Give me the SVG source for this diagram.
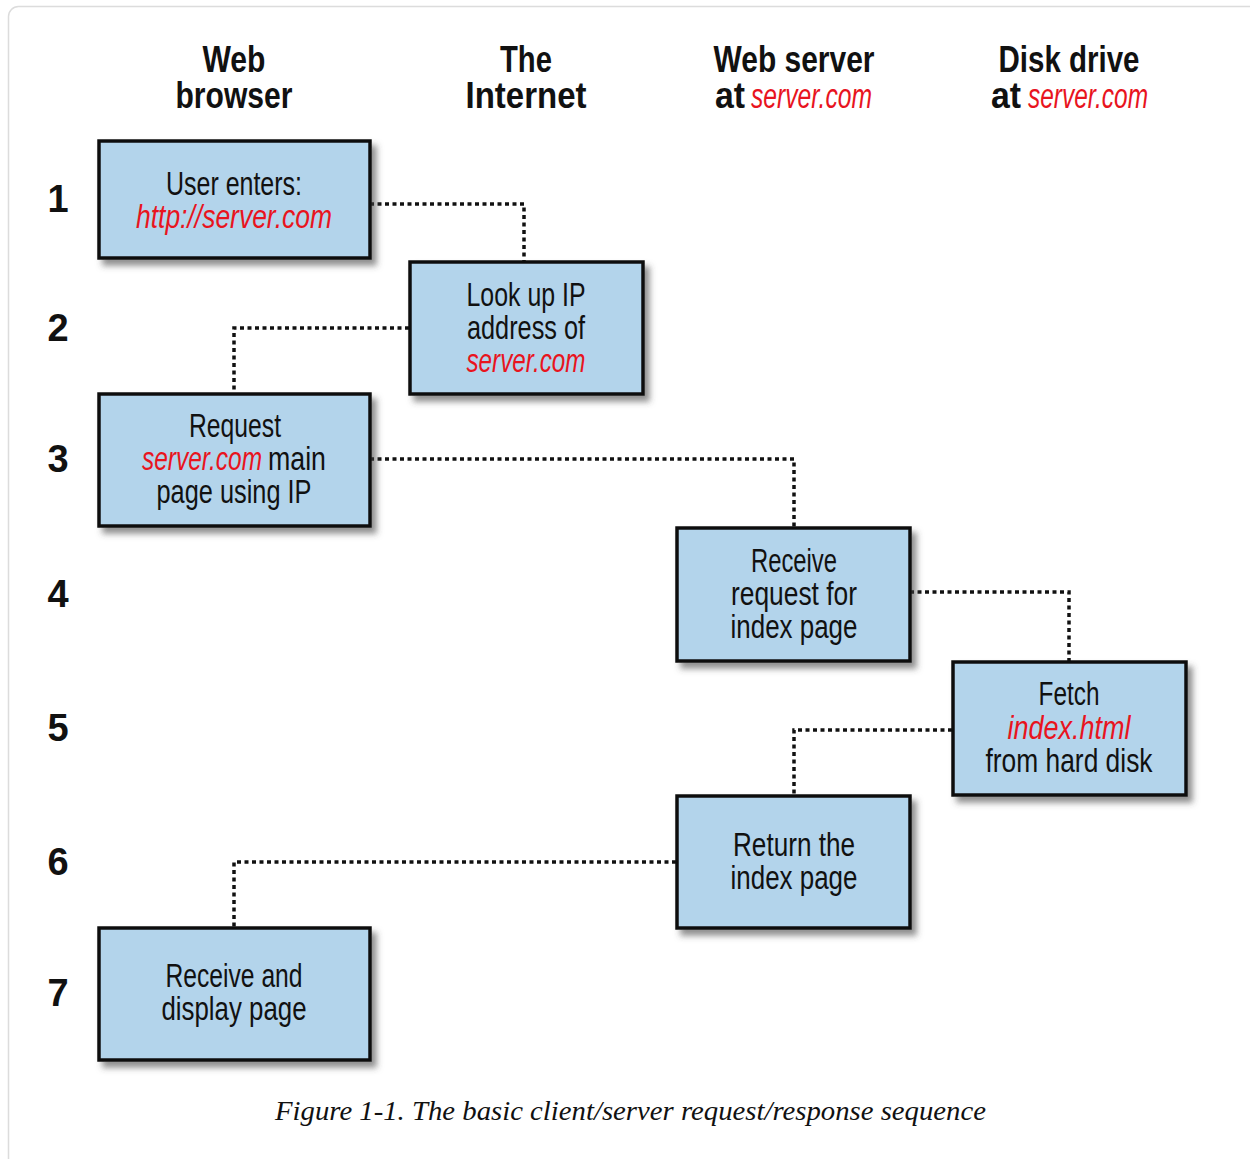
<svg xmlns="http://www.w3.org/2000/svg" width="1250" height="1159" viewBox="0 0 1250 1159">
<defs>
<filter id="sh" x="-10%" y="-10%" width="130%" height="130%">
<feDropShadow dx="5" dy="6" stdDeviation="3" flood-color="#444" flood-opacity="0.6"/>
</filter>
<style>
.box{fill:#b3d4eb;stroke:#111;stroke-width:3.5;filter:url(#sh)}
.t{font-family:"Liberation Sans Narrow","Liberation Sans",sans-serif;font-size:33px;fill:#111;text-anchor:middle}
.r{fill:#e8141e;font-style:italic}
.h{font-family:"Liberation Sans Narrow","Liberation Sans",sans-serif;font-size:37px;font-weight:bold;fill:#111;text-anchor:middle}
.hr{font-family:"Liberation Sans Narrow","Liberation Sans",sans-serif;font-size:35px;font-style:italic;fill:#e8141e}
.n{font-family:"Liberation Sans Narrow","Liberation Sans",sans-serif;font-size:38px;font-weight:bold;fill:#111;text-anchor:middle}
.c{fill:none;stroke:#111;stroke-width:3.5;stroke-dasharray:4 3.5}
.cap{font-family:"Liberation Serif",serif;font-style:italic;font-size:27px;fill:#111}
</style>
</defs>
<rect x="8.5" y="6.5" width="1260" height="1180" rx="10" fill="#fff" stroke="#dcdcdc" stroke-width="1.5"/>
<g id="headers">
<text class="h" x="234" y="72" textLength="63" lengthAdjust="spacingAndGlyphs">Web</text>
<text class="h" x="234" y="108" textLength="117" lengthAdjust="spacingAndGlyphs">browser</text>
<text class="h" x="526" y="72" textLength="52" lengthAdjust="spacingAndGlyphs">The</text>
<text class="h" x="526" y="108" textLength="121" lengthAdjust="spacingAndGlyphs">Internet</text>
<text class="h" x="794" y="72" textLength="161" lengthAdjust="spacingAndGlyphs">Web server</text>
<text class="h" x="730" y="108" textLength="30" lengthAdjust="spacingAndGlyphs">at</text>
<text class="hr" x="751" y="108" textLength="121" lengthAdjust="spacingAndGlyphs">server.com</text>
<text class="h" x="1069" y="72" textLength="141" lengthAdjust="spacingAndGlyphs">Disk drive</text>
<text class="h" x="1006" y="108" textLength="30" lengthAdjust="spacingAndGlyphs">at</text>
<text class="hr" x="1028" y="108" textLength="120" lengthAdjust="spacingAndGlyphs">server.com</text>
</g>
<g id="rows">
<text class="n" x="58" y="212">1</text>
<text class="n" x="58" y="341">2</text>
<text class="n" x="58" y="472">3</text>
<text class="n" x="58" y="607">4</text>
<text class="n" x="58" y="741">5</text>
<text class="n" x="58" y="875">6</text>
<text class="n" x="58" y="1006">7</text>
</g>
<g id="connectors">
<path class="c" d="M370,204 H524 V262"/>
<path class="c" d="M409,328 H234 V394"/>
<path class="c" d="M370,459 H794 V528"/>
<path class="c" d="M910,592 H1069 V662"/>
<path class="c" d="M952,730 H794 V796"/>
<path class="c" d="M676,862 H234 V928"/>
</g>
<g id="n1">
<rect class="box" x="99" y="141" width="271" height="117"/>
<text class="t" x="234" y="195" textLength="136" lengthAdjust="spacingAndGlyphs">User enters:</text>
<text class="t r" x="234" y="228" textLength="196" lengthAdjust="spacingAndGlyphs">http://server.com</text>
</g>
<g id="n2">
<rect class="box" x="410" y="262" width="233" height="132"/>
<text class="t" x="526" y="306" textLength="119" lengthAdjust="spacingAndGlyphs">Look up IP</text>
<text class="t" x="526" y="339" textLength="118" lengthAdjust="spacingAndGlyphs">address of</text>
<text class="t r" x="526" y="372" textLength="119" lengthAdjust="spacingAndGlyphs">server.com</text>
</g>
<g id="n3">
<rect class="box" x="99" y="394" width="271" height="132"/>
<text class="t" x="235" y="437" textLength="92" lengthAdjust="spacingAndGlyphs">Request</text>
<text class="t r" x="202" y="470" textLength="120" lengthAdjust="spacingAndGlyphs">server.com</text>
<text class="t" x="297" y="470" textLength="58" lengthAdjust="spacingAndGlyphs">main</text>
<text class="t" x="234" y="503" textLength="155" lengthAdjust="spacingAndGlyphs">page using IP</text>
</g>
<g id="n4">
<rect class="box" x="677" y="528" width="233" height="133"/>
<text class="t" x="794" y="572" textLength="86" lengthAdjust="spacingAndGlyphs">Receive</text>
<text class="t" x="794" y="605" textLength="126" lengthAdjust="spacingAndGlyphs">request for</text>
<text class="t" x="794" y="638" textLength="127" lengthAdjust="spacingAndGlyphs">index page</text>
</g>
<g id="n5">
<rect class="box" x="953" y="662" width="233" height="133"/>
<text class="t" x="1069" y="705" textLength="61" lengthAdjust="spacingAndGlyphs">Fetch</text>
<text class="t r" x="1069" y="739" textLength="123" lengthAdjust="spacingAndGlyphs">index.html</text>
<text class="t" x="1069" y="772" textLength="167" lengthAdjust="spacingAndGlyphs">from hard disk</text>
</g>
<g id="n6">
<rect class="box" x="677" y="796" width="233" height="132"/>
<text class="t" x="794" y="856" textLength="122" lengthAdjust="spacingAndGlyphs">Return the</text>
<text class="t" x="794" y="889" textLength="127" lengthAdjust="spacingAndGlyphs">index page</text>
</g>
<g id="n7">
<rect class="box" x="99" y="928" width="271" height="132"/>
<text class="t" x="234" y="987" textLength="137" lengthAdjust="spacingAndGlyphs">Receive and</text>
<text class="t" x="234" y="1020" textLength="145" lengthAdjust="spacingAndGlyphs">display page</text>
</g>
<text class="cap" x="275" y="1120" textLength="711" lengthAdjust="spacingAndGlyphs">Figure 1-1. The basic client/server request/response sequence</text>
</svg>
